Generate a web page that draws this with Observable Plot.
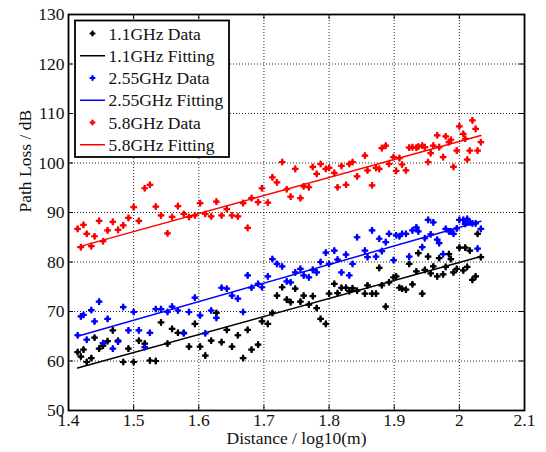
<!DOCTYPE html>
<html><head><meta charset="utf-8">
<script src="https://cdn.jsdelivr.net/npm/d3@7"></script>
<script src="https://cdn.jsdelivr.net/npm/@observablehq/plot@0.6"></script>
<style>html,body{margin:0;padding:0;background:#fff;} #chart{width:546px;height:452px;}</style>
</head><body><div id="chart"></div>
<script>
const distance = [1.414,1.419,1.423,1.428,1.435,1.440,1.447,1.453,1.460,1.468,
1.476,1.484,1.492,1.500,1.508,1.517,1.525,1.534,1.542,1.552,
1.559,1.568,1.577,1.585,1.594,1.602,1.610,1.619,1.627,1.635,
1.643,1.651,1.660,1.668,1.675,1.681,1.691,1.697,1.706,1.713,
1.720,1.728,1.735,1.741,1.748,1.756,1.761,1.769,1.775,1.781,
1.787,1.795,1.800,1.808,1.813,1.819,1.826,1.831,1.836,1.843,
1.855,1.859,1.866,1.872,1.877,1.881,1.887,1.892,1.899,1.903,
1.908,1.912,1.918,1.923,1.928,1.934,1.937,1.943,1.947,1.952,
1.956,1.960,1.966,1.969,1.975,1.979,1.984,1.987,1.991,1.996,
2.000,2.006,2.009,2.012,2.016,2.020,2.025,2.028,2.033];

const loss11 = [61.8,60.9,62.3,59.8,60.6,64.7,62.5,63.1,64.0,66.2,
64.1,59.8,62.5,59.8,64.1,63.5,60.1,60.0,67.8,63.5,
66.5,65.7,65.7,62.9,67.5,62.9,61.1,64.1,69.7,63.8,
66.3,62.9,65.2,60.6,66.3,62.3,63.3,68.0,67.5,69.7,
73.2,74.9,72.4,71.9,74.6,72.0,73.2,71.4,73.1,70.7,
68.5,67.5,73.6,75.6,73.7,74.8,74.8,74.1,74.7,74.2,
73.6,75.3,73.6,73.6,78.8,75.3,71.0,75.9,76.9,77.1,
74.8,74.6,74.4,79.6,75.5,78.1,81.8,73.6,78.4,81.1,
77.7,79.1,77.1,80.8,77.5,79.0,81.6,80.6,77.9,78.6,
82.9,78.3,82.9,79.0,82.3,76.4,77.1,85.7,81.0];

const loss255 = [65.2,69.0,69.3,64.3,70.3,68.0,72.0,63.6,68.5,62.5,
63.9,70.9,66.2,69.9,66.2,62.8,65.7,70.5,70.5,69.9,
71.0,70.2,65.6,69.9,72.8,69.2,65.6,70.2,68.7,74.8,
74.6,73.2,72.6,69.9,77.3,74.8,75.6,74.9,77.1,80.6,
79.6,79.1,76.1,75.9,77.9,78.6,77.3,76.9,78.4,77.9,
80.0,81.9,79.6,82.3,80.5,77.9,81.5,77.3,79.6,85.0,
82.3,81.0,86.4,81.1,84.7,82.2,84.0,85.7,80.4,85.4,
85.2,85.7,85.7,81.1,86.4,87.0,86.2,83.0,84.8,88.5,
85.6,88.0,84.5,83.8,81.6,86.7,86.2,86.2,85.7,86.8,
88.5,88.5,87.7,88.7,88.0,87.8,87.8,82.7,86.7];

const loss58 = [86.7,83.0,87.5,85.7,83.2,85.2,88.3,84.2,86.4,88.1,
86.5,87.4,88.9,91.1,88.3,94.9,95.6,91.2,89.4,85.8,
89.1,91.3,89.7,89.1,89.4,91.9,89.7,89.2,92.2,89.4,
90.7,89.4,89.2,91.9,86.9,92.9,92.1,94.9,92.0,97.1,
96.1,100.2,94.7,93.2,98.8,92.9,95.3,95.1,99.2,97.8,
99.8,98.8,99.0,98.0,95.1,99.4,95.6,99.8,100.2,97.3,
101.5,98.5,95.5,99.0,98.8,103.0,103.5,99.8,101.2,98.4,
101.0,99.7,98.5,103.1,103.2,103.1,103.3,103.5,103.2,100.2,
102.0,103.5,105.6,103.2,101.2,105.4,104.2,104.7,99.2,102.5,
107.4,105.9,104.9,100.7,102.5,108.6,106.9,102.5,104.2];

const fitX = [1.414, 2.033];
const fit11 = [58.6, 81.1];
const fit255 = [65.0, 88.25];
const fit58 = [83.0, 105.55];

const seriesNames = ["1.1GHz", "2.55GHz", "5.8GHz"];
const seriesColors = ["#000000", "#0000ff", "#ff0000"];
const xTicks = [1.4, 1.5, 1.6, 1.7, 1.8, 1.9, 2.0, 2.1];
const xTickLabels = ["1.4", "1.5", "1.6", "1.7", "1.8", "1.9", "2", "2.1"];
const yTicks = [50, 60, 70, 80, 90, 100, 110, 120, 130];
const yTickLabels = ["50", "60", "70", "80", "90", "100", "110", "120", "130"];
const xLabel = "Distance / log10(m)";
const yLabel = "Path Loss / dB";

const seriesValues = [loss11, loss255, loss58];
const seriesFits = [fit11, fit255, fit58];

const points = [];
seriesValues.forEach((vals, s) => vals.forEach((v, i) => points.push({x: distance[i], y: v, s})));
const fits = [];
seriesFits.forEach((f, s) => f.forEach((v, i) => fits.push({x: fitX[i], y: v, s})));

const FONT = "'Liberation Serif', 'Times New Roman', serif";
const FS = 17.5;
const W = 546, H = 452, ML = 68, MR = 22, MT = 14, MB = 42;
const innerW = W - ML - MR, innerH = H - MT - MB;
const tk = 5;

const gridStyle = {stroke: "#000", strokeOpacity: 0.85, strokeWidth: 1, strokeDasharray: "1,2"};

const chart = Plot.plot({
  width: W, height: H,
  marginLeft: ML, marginRight: MR, marginTop: MT, marginBottom: MB,
  style: {fontFamily: FONT, fontSize: FS + "px", color: "#111", background: "#fff"},
  x: {domain: [1.4, 2.1]},
  y: {domain: [50, 130]},
  marks: [
    Plot.ruleX(xTicks.slice(1, -1), {x: d => d, ...gridStyle}),
    Plot.ruleY(yTicks.slice(1, -1), {y: d => d, ...gridStyle}),
    Plot.ruleX(xTicks, {x: d => d, insetTop: innerH - tk, stroke: "#000"}),
    Plot.ruleX(xTicks, {x: d => d, insetBottom: innerH - tk, stroke: "#000"}),
    Plot.ruleY(yTicks, {y: d => d, insetLeft: innerW - tk, stroke: "#000"}),
    Plot.ruleY(yTicks, {y: d => d, insetRight: innerW - tk, stroke: "#000"}),
    Plot.line(fits, {x: "x", y: "y", z: "s", stroke: d => seriesColors[d.s], strokeWidth: 1.5}),
    Plot.dot(points, {x: "x", y: "y", symbol: "cross", r: 2.8, fill: d => seriesColors[d.s], stroke: "none"}),
    Plot.dot(points, {x: "x", y: "y", symbol: "diamond", r: 2.2, fill: d => seriesColors[d.s], stroke: "none"}),
    Plot.frame({stroke: "#000", strokeWidth: 1.8}),
    Plot.axisX({ticks: xTicks, tickFormat: d => xTickLabels[xTicks.indexOf(d)], tickSize: 0, tickPadding: 3, label: null, fontSize: FS}),
    Plot.axisY({ticks: yTicks, tickFormat: d => yTickLabels[yTicks.indexOf(d)], tickSize: 0, tickPadding: 4, label: null, fontSize: FS}),
    Plot.text([xLabel], {text: d => d, frameAnchor: "bottom", dy: 33.5, fontSize: FS, fill: "#111"}),
    Plot.text([yLabel], {text: d => d, frameAnchor: "left", dx: -43.5, rotate: -90, fontSize: FS, fill: "#111"})
  ]
});
document.getElementById("chart").appendChild(chart);

// Legend inside the plot area (top-left)
const svg = d3.select(chart);
const lg = svg.append("g").attr("font-family", FONT).attr("font-size", FS).attr("text-anchor", "start");
lg.append("rect").attr("x", 75).attr("y", 20.5).attr("width", 154).attr("height", 136.5)
  .attr("fill", "#fff").attr("stroke", "#000").attr("stroke-width", 1.8);
const entries = [];
seriesNames.forEach((n, s) => {
  entries.push({label: n + " Data", s, type: "dot"});
  entries.push({label: n + " Fitting", s, type: "line"});
});
entries.forEach((e, i) => {
  const cy = 33.5 + i * 22.25;
  if (e.type === "dot") {
    lg.append("path").attr("d", d3.symbol(d3.symbolCross, Math.PI * 2.4 * 2.4)())
      .attr("transform", `translate(92.5,${cy})`).attr("fill", seriesColors[e.s]);
    lg.append("path").attr("d", d3.symbol(d3.symbolDiamond, Math.PI * 1.9 * 1.9)())
      .attr("transform", `translate(92.5,${cy})`).attr("fill", seriesColors[e.s]);
  } else {
    lg.append("line").attr("x1", 80).attr("x2", 105).attr("y1", cy).attr("y2", cy)
      .attr("stroke", seriesColors[e.s]).attr("stroke-width", 1.5);
  }
  lg.append("text").attr("x", 108.5).attr("y", cy).attr("dy", "0.35em")
    .attr("text-anchor", "start").attr("fill", "#111").text(e.label);
});
</script>
</body></html>
